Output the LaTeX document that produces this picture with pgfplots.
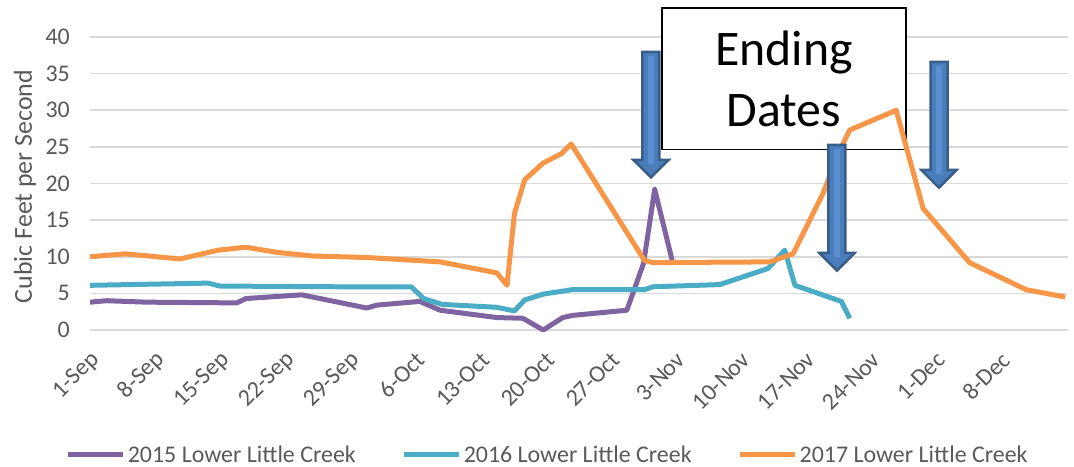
\documentclass[border=0pt]{standalone}
\usepackage{pgfplots}
\pgfplotsset{compat=1.18}
\usepackage{fontspec}
\setmainfont{Carlito}

\definecolor{c15}{HTML}{8064A2}
\definecolor{c16}{HTML}{4BACC6}
\definecolor{c17}{HTML}{F79646}
\definecolor{gridgray}{HTML}{D9D9D9}
\definecolor{txtgray}{HTML}{595959}
\definecolor{arrowfill}{HTML}{4A7EBB}
\definecolor{arrowlight}{HTML}{5B8FD3}
\definecolor{arrowedge}{HTML}{385D8A}

\newcommand{\lbl}{\fontsize{24}{28}\selectfont}

\begin{document}
\begin{tikzpicture}
\begin{axis}[
    scale only axis,
    width=978bp, height=293bp,
    xmin=0, xmax=105.3,
    ymin=0, ymax=40,
    clip=false,
    xtick={0,7,...,98},
    xticklabels={1-Sep,8-Sep,15-Sep,22-Sep,29-Sep,6-Oct,13-Oct,20-Oct,27-Oct,3-Nov,10-Nov,17-Nov,24-Nov,1-Dec,8-Dec},
    ytick={0,5,...,40},
    ymajorgrids,
    grid style={gridgray, line width=1.5bp},
    axis line style={draw=none},
    major tick length=0pt,
    /pgf/number format/assume math mode=true,
    tick label style={font=\lbl, text=txtgray, inner sep=0pt},
    x tick label style={xshift=6bp, yshift=-26bp, rotate=45, anchor=east},
    yticklabel style={anchor=east, xshift=-20bp},
    ylabel={Cubic Feet per Second},
    ylabel style={font=\fontsize{26}{30}\selectfont, text=txtgray, at={(axis description cs:-0.0665,0.49)}, anchor=center},
    legend columns=3,
    legend style={at={(axis description cs:0.468,-0.425)}, anchor=center, draw=none, fill=none,
        font=\lbl, nodes={text=txtgray, inner sep=2bp},
        /tikz/every even column/.append style={column sep=44bp}},
    legend image code/.code={\draw[#1] (0bp,0bp) -- (55bp,0bp);},
]
% text box sits over the grid, under the lines
\draw[black, fill=white, line width=1.2bp] (61.58,24.67) rectangle (87.86,43.96);

\addplot[c15, line width=5bp, line join=round] coordinates {
    (0,3.8) (1.8,4.0) (6.1,3.8) (15.8,3.7) (16.8,4.3) (22.8,4.8) (29.8,3.0)
    (30.9,3.4) (35.5,3.9) (37.7,2.7) (43.8,1.7) (46.6,1.6) (48.8,0) (50.9,1.7)
    (52,2.0) (57.8,2.7) (59.6,9.1) (60.8,19.2) (62.8,8.9)
};
\addlegendentry{2015 Lower Little Creek}

\addplot[c16, line width=5bp, line join=round] coordinates {
    (0,6.1) (12.7,6.4) (14,6.0) (26.9,5.9) (34.6,5.9) (35.9,4.3) (37.9,3.5)
    (43.8,3.1) (45.7,2.6) (46.8,4.1) (48.8,4.9) (51.9,5.5) (59.7,5.5) (60.6,5.9)
    (67.8,6.2) (73,8.4) (74.8,10.9) (75.9,6.1) (80.9,3.9) (81.8,1.6)
};
\addlegendentry{2016 Lower Little Creek}

\addplot[c17, line width=5bp, line join=round] coordinates {
    (0,10.0) (3.8,10.4) (9.7,9.7) (13.8,10.9) (16.8,11.3) (20.1,10.6) (24,10.1)
    (29.8,9.9) (37.7,9.3) (43.8,7.8) (44.9,6.1) (45.7,15.9) (46.8,20.5) (48.8,22.8)
    (50.8,24.1) (51.8,25.4) (59.7,9.5) (60.6,9.2) (73.2,9.3) (75.7,10.4) (78.9,18.6)
    (80.9,25.0) (81.8,27.3) (86.8,30.0) (89.7,16.6) (94.7,9.2) (100.8,5.5) (105,4.5)
};
\addlegendentry{2017 Lower Little Creek}
\end{axis}

% annotations in reference pixel units
\begin{scope}[x=1bp, y=-1bp, shift={(-90bp,330bp)}]
  \node[font=\fontsize{50}{62}\selectfont, align=center, black] at (784,79) {Ending\\Dates};
  \foreach \cx/\top/\base/\tip in {651/52/160/177.3, 837/145/253/270.7, 939/62/170/187.7} {
    \draw[arrowedge, fill=arrowfill, line width=2.5bp, line join=miter]
      (\cx-8.5,\top) -- (\cx+8.5,\top) -- (\cx+8.5,\base) -- (\cx+17.5,\base)
      -- (\cx,\tip) -- (\cx-17.5,\base) -- (\cx-8.5,\base) -- cycle;
    \fill[arrowlight] (\cx-3,\top+4) rectangle (\cx+3,\base+4);
  }
\end{scope}

\pgfresetboundingbox
\path[use as bounding box] (-90bp,-137bp) rectangle (984bp,330bp);
\end{tikzpicture}
\end{document}
